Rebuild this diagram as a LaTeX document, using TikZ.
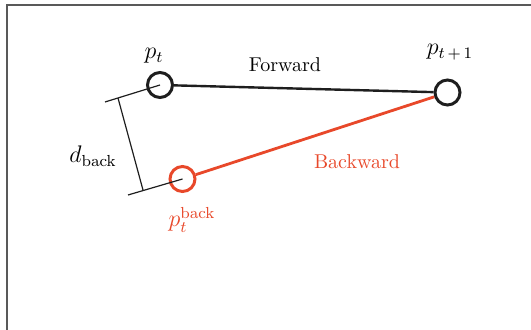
\documentclass[tikz,border=0pt]{standalone}
\usepackage{amsmath,amssymb}
\usepackage{xcolor}
\usepackage{tikz}
\usetikzlibrary{positioning}
\definecolor{bkred}{RGB}{232,72,42}
\definecolor{fwdark}{RGB}{30,30,30}
\tikzset{
  posdot/.style={circle, draw=fwdark, line width=1.5pt, minimum size=12.5pt, inner sep=0pt},
  dimline/.style={draw=fwdark, line width=0.6pt},
  mathlbl/.style={font=\large}
}

\begin{document}
\begin{tikzpicture}[x=0.5pt, y=-0.5pt]
\useasboundingbox (0,0) rectangle (531,330);
% frame
\draw[gray!70!black, line width=1pt] (6.5,330) -- (6.5,5.5) -- (531,5.5);
% positions
\node[posdot] (pt) at (160,85) {};
\node[posdot] (ptnext) at (447.5,92.5) {};
\node[posdot, draw=bkred] (ptback) at (182.5,179) {};
% forward / backward lines
\draw[fwdark, line width=1.2pt] (pt) -- (ptnext);
\draw[bkred, line width=1.4pt] (ptback) -- (ptnext);
% distance marker
\coordinate (ta) at (105,102);
\coordinate (tb) at (128,195);
\coordinate (da) at (118,98);
\coordinate (db) at (143,190);
\draw[dimline] (ta) -- (pt.center);
\draw[dimline] (tb) -- (ptback.center);
\draw[dimline] (da) -- (db);
% labels
\node[mathlbl] (lpt) at (154,56) {$p_t$};
\node[mathlbl] (lptnext) at (450,52) {$p_{t\,+\,1}$};
\node (lfwd) at (285,65) {Forward};
\node[text=bkred] (lbwd) at (357,162) {Backward};
\node[mathlbl] (ldback) at (93,156) {$d_{\mathrm{back}}$};
\node[mathlbl, text=bkred] (lptback) at (192,220) {$p_t^{\mathrm{back}}$};
\end{tikzpicture}
\end{document}
